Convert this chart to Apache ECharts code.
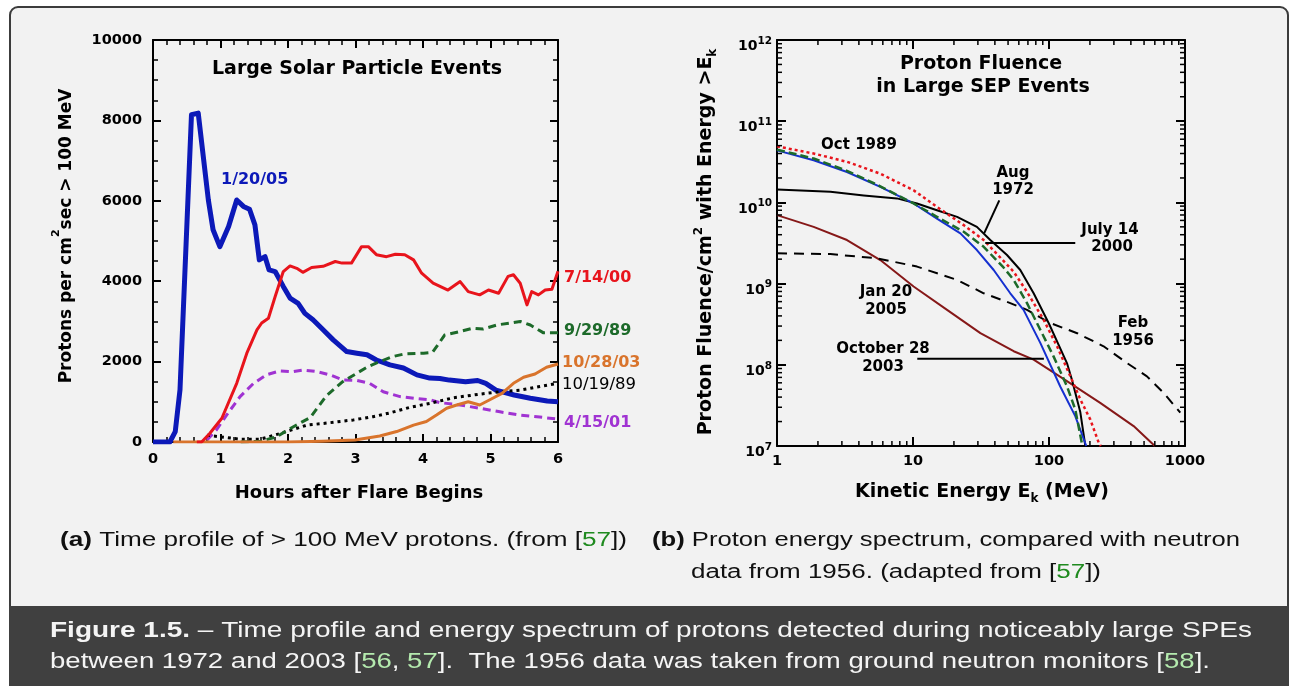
<!DOCTYPE html>
<html><head><meta charset="utf-8">
<script src="https://cdn.jsdelivr.net/npm/echarts@6/dist/echarts.min.js"></script>
<style>
html,body{margin:0;padding:0;background:#fff;overflow:hidden}
#frame{position:absolute;left:9px;top:6px;width:1280px;height:720px;box-sizing:border-box;border:2px solid #3c3c3c;border-radius:9px;background:#f2f2f2}
#band{position:absolute;left:9px;top:606px;width:1280px;height:80px;background:#404040}
#c{position:absolute;left:0;top:0;width:1289px;height:686px}
</style>
</head><body>
<div id="frame"></div><div id="band"></div>
<div id="c"></div>
<script>
// ---------------- Panel (a): >100 MeV proton flux vs hours after flare ----------------
const evt_1_20_05 = [[0,0],[0.25,0],[0.33,260],[0.40,1300],[0.57,8140],[0.67,8180],[0.82,6020],[0.89,5280],[0.99,4860],[1.12,5360],[1.24,6020],[1.34,5860],[1.43,5790],[1.51,5400],[1.575,4530],[1.66,4610],[1.72,4280],[1.81,4240],[1.93,3870],[2.03,3580],[2.15,3450],[2.25,3200],[2.37,3040],[2.52,2790],[2.67,2540],[2.87,2250],[3.02,2210],[3.17,2170],[3.31,2040],[3.51,1920],[3.71,1840],[3.91,1670],[4.10,1590],[4.25,1580],[4.39,1540],[4.63,1500],[4.81,1530],[4.93,1460],[5.08,1290],[5.35,1170],[5.59,1090],[5.84,1020],[6.0,1000]];
const evt_7_14_00 = [[0.65,0],[0.72,0],[0.84,210],[1.02,590],[1.24,1460],[1.39,2210],[1.54,2790],[1.61,2960],[1.71,3080],[1.81,3620],[1.93,4240],[2.03,4380],[2.13,4320],[2.22,4220],[2.35,4340],[2.52,4370],[2.70,4490],[2.80,4450],[2.94,4450],[3.09,4860],[3.19,4860],[3.31,4660],[3.46,4610],[3.59,4670],[3.73,4660],[3.86,4530],[3.98,4200],[4.15,3950],[4.37,3780],[4.55,3990],[4.67,3740],[4.84,3660],[4.97,3780],[5.12,3700],[5.26,4120],[5.34,4160],[5.44,3950],[5.54,3410],[5.61,3740],[5.71,3660],[5.81,3780],[5.91,3800],[6.0,4250]];
const evt_9_29_89 = [[1.3,0],[1.6,20],[1.83,130],[2.08,380],[2.33,610],[2.57,1150],[2.81,1500],[2.99,1680],[3.18,1870],[3.36,2000],[3.54,2120],[3.72,2190],[4.01,2210],[4.14,2230],[4.23,2440],[4.32,2660],[4.55,2750],[4.74,2830],[4.89,2810],[5.09,2910],[5.29,2960],[5.44,3000],[5.59,2910],[5.78,2720],[6.0,2720]];
const evt_10_28_03 = [[0.3,0],[2.0,0],[2.5,20],[2.99,50],[3.36,150],[3.61,260],[3.86,420],[4.05,510],[4.2,670],[4.35,840],[4.5,920],[4.67,1000],[4.84,920],[4.99,1050],[5.17,1210],[5.34,1460],[5.49,1610],[5.66,1690],[5.83,1860],[6.0,1940]];
const evt_10_19_89 = [[0.8,170],[0.99,130],[1.29,70],[1.59,70],[1.88,210],[2.28,420],[2.57,470],[2.97,550],[3.26,630],[3.5,720],[3.8,860],[4.1,960],[4.45,1100],[4.84,1190],[5.14,1250],[5.44,1290],[5.73,1380],[6.0,1460]];
const evt_4_15_01 = [[0.8,50],[0.94,300],[1.09,670],[1.29,1130],[1.49,1460],[1.68,1670],[1.88,1770],[2.08,1750],[2.23,1790],[2.43,1750],[2.62,1670],[2.82,1540],[3.02,1530],[3.21,1460],[3.41,1250],[3.66,1130],[3.91,1080],[4.10,1050],[4.25,980],[4.55,920],[4.84,840],[5.14,750],[5.44,670],[5.73,620],[6.0,570]];

// ---------------- Panel (b): fluence above E (MeV) ----------------
const flu_oct1989 = [[1,4.9e10],[1.86,4.0e10],[3.27,3.16e10],[5.75,2.26e10],[10.1,1.41e10],[15.0,8.8e9],[23.6,5.25e9],[33.1,3.44e9],[46.3,1.9e9],[55,1.4e9],[68.9,7.9e8],[91.2,3.6e8],[114.6,1.69e8],[143.6,7.2e7],[170,3.74e7],[201,2.13e7],[232,1.1e7],[240,1.0e7]];
const flu_jul2000 = [[1,4.37e10],[1.86,3.3e10],[3.27,2.37e10],[5.75,1.55e10],[10.1,9.7e9],[15.0,6.3e9],[22.3,4.15e9],[29.5,2.59e9],[39.2,1.47e9],[51.9,7.6e8],[65.0,4.75e8],[86.3,1.86e8],[121,5.4e7],[156,2.33e7],[188,1.0e7]];
const flu_sep1989 = [[1,4.47e10],[1.86,3.47e10],[3.27,2.45e10],[5.75,1.58e10],[10.1,9.7e9],[15.0,6.64e9],[23.6,4.35e9],[33.1,2.84e9],[46.3,1.58e9],[55,1.11e9],[68.9,5.75e8],[86.3,2.7e8],[108,1.27e8],[135.5,5.45e7],[156,2.82e7],[176,1.0e7]];
const flu_aug1972 = [[1,1.44e10],[2.47,1.35e10],[4.34,1.22e10],[7.62,1.12e10],[10.7,9.7e9],[15.0,8.0e9],[21.1,6.64e9],[29.5,5.0e9],[37,3.44e9],[49.1,2.25e9],[61.5,1.47e9],[77.1,7.6e8],[100,3.2e8],[135.5,1.05e8],[147.6,6.5e7],[170,2.6e7],[185,1.0e7]];
const flu_feb1956 = [[1,2.36e9],[2.47,2.31e9],[5.43,2.05e9],[10.7,1.62e9],[21.1,1.11e9],[33.1,7.6e8],[51.9,5.75e8],[68.9,4.75e8],[102,3.27e8],[161,2.45e8],[252,1.69e8],[375,1.05e8],[525,7.2e7],[697,4.5e7],[923,2.57e7]];
const flu_jan2005 = [[1,6.97e9],[1.86,5.0e9],[3.27,3.44e9],[5.75,1.95e9],[10.1,9.2e8],[17.8,4.75e8],[31.3,2.46e8],[55,1.47e8],[77.1,1.16e8],[135.5,6.3e7],[238,3.4e7],[419,1.76e7],[600,1.0e7]];

const FF = 'DejaVu Sans';
const BLACK = '#000';
const plain = v => String(Math.round(v));

const chart = echarts.init(document.getElementById('c'), null, {renderer:'canvas', width:1289, height:686});

function linAxis(grid, pos, showLabel, extra) {
  return Object.assign({
    gridIndex: grid, type: 'value', position: pos,
    axisLine: {show:true, onZero:false, lineStyle:{color:BLACK, width:2}},
    axisTick: {show:true, inside:true, length:8, lineStyle:{color:BLACK, width:2}},
    minorTick: {show:true, length:5, lineStyle:{color:BLACK, width:1.5}},
    splitLine: {show:false}, minorSplitLine:{show:false},
    axisLabel: {show:showLabel, color:BLACK, fontFamily:FF, fontWeight:'bold', fontSize:14, formatter: plain}
  }, extra);
}
function logAxis(grid, pos, showLabel, extra) {
  return Object.assign({
    gridIndex: grid, type: 'log', logBase: 10, position: pos,
    axisLine: {show:true, onZero:false, lineStyle:{color:BLACK, width:2}},
    axisTick: {show:true, inside:true, length:9, lineStyle:{color:BLACK, width:2}},
    minorTick: {show:false},
    splitLine: {show:false},
    axisLabel: {show:showLabel, color:BLACK, fontFamily:FF, fontWeight:'bold', fontSize:14, formatter: plain}
  }, extra);
}

const xMinorVals = [], yMinorVals = [];
for (let d = 0; d < 3; d++) for (let m = 2; m <= 9; m++) xMinorVals.push([m * Math.pow(10, d), 1e7]);
for (let d = 7; d < 12; d++) for (let m = 2; m <= 9; m++) yMinorVals.push([1, m * Math.pow(10, d)]);

function lineSeries(name, data, xi, yi, color, width, dash, z) {
  return {name, type:'line', xAxisIndex:xi, yAxisIndex:yi, data, showSymbol:false, symbol:'none',
    smooth:false, z:z, animation:false,
    lineStyle:{color, width, type: dash || 'solid', cap:'butt', join:'round'}};
}

const labA = {show:true, color:BLACK, fontFamily:FF, fontWeight:'bold', fontSize:14.5, formatter: plain};
const option = {
  animation: false,
  grid: [
    {left:153, top:40, width:405, height:402},
    {left:777, top:40, width:408, height:406}
  ],
  xAxis: [
    linAxis(0, 'bottom', true, {min:0, max:6, interval:1, minorTick:{show:true, splitNumber:5, length:5, lineStyle:{color:BLACK, width:1.5}}, axisLabel:Object.assign({margin:10}, labA)}),
    linAxis(0, 'top', false, {min:0, max:6, interval:1, minorTick:{show:true, splitNumber:5, length:5, lineStyle:{color:BLACK, width:1.5}}}),
    logAxis(1, 'bottom', true, {min:1, max:1000, axisLabel:Object.assign({margin:8}, labA)}),
    logAxis(1, 'top', false, {min:1, max:1000})
  ],
  yAxis: [
    linAxis(0, 'left', true, {min:0, max:10000, interval:2000, minorTick:{show:true, splitNumber:4, length:5, lineStyle:{color:BLACK, width:1.5}}, axisLabel:Object.assign({margin:11}, labA)}),
    linAxis(0, 'right', false, {min:0, max:10000, interval:2000, minorTick:{show:true, splitNumber:4, length:5, lineStyle:{color:BLACK, width:1.5}}}),
    logAxis(1, 'left', true, {min:1e7, max:1e12, axisLabel:{show:true, margin:5, padding:[9,0,0,0],
      formatter: v => '{b|10}{s|' + Math.round(Math.log10(v)) + '}',
      rich:{
        b:{fontFamily:FF, fontWeight:'bold', fontSize:14, lineHeight:18, verticalAlign:'bottom', color:BLACK},
        s:{fontFamily:FF, fontWeight:'bold', fontSize:10.5, lineHeight:10, verticalAlign:'top', color:BLACK}
      }}}),
    logAxis(1, 'right', false, {min:1e7, max:1e12})
  ],
  series: [
    lineSeries('1/20/05', evt_1_20_05, 0, 0, '#0c19b8', 5, 'solid', 2),
    lineSeries('4/15/01', evt_4_15_01, 0, 0, '#a033d2', 3, [8,5], 3),
    lineSeries('10/19/89', evt_10_19_89, 0, 0, '#000000', 3, [3,4], 3),
    lineSeries('9/29/89', evt_9_29_89, 0, 0, '#1d6a2a', 3, [8,5], 3),
    lineSeries('10/28/03', evt_10_28_03, 0, 0, '#d9742c', 3, 'solid', 4),
    lineSeries('7/14/00', evt_7_14_00, 0, 0, '#e8141c', 3, 'solid', 4),

    lineSeries('Jan 2005', flu_jan2005, 2, 2, '#861818', 2, 'solid', 2),
    lineSeries('Feb 1956', flu_feb1956, 2, 2, '#000000', 2, [10,7], 2),
    lineSeries('Aug 1972', flu_aug1972, 2, 2, '#000000', 2, 'solid', 3),
    lineSeries('Jul 2000', flu_jul2000, 2, 2, '#1530d0', 2, 'solid', 3),
    lineSeries('Sep 1989', flu_sep1989, 2, 2, '#1d6a2a', 2.5, [8,4], 4),
    lineSeries('Oct 1989', flu_oct1989, 2, 2, '#e8141c', 2.5, [3,3], 5),

    {type:'custom', xAxisIndex:2, yAxisIndex:2, data:xMinorVals, silent:true, clip:false, z:6,
      encode:{x:0, y:1},
      renderItem:(p, api) => {
        const v = api.value(0);
        const b = api.coord([v, 1e7]), t = api.coord([v, 1e12]);
        return {type:'group', children:[
          {type:'line', shape:{x1:b[0], y1:b[1], x2:b[0], y2:b[1]-5}, style:{stroke:BLACK, lineWidth:1.5}},
          {type:'line', shape:{x1:t[0], y1:t[1], x2:t[0], y2:t[1]+5}, style:{stroke:BLACK, lineWidth:1.5}}
        ]};
      }},
    {type:'custom', xAxisIndex:2, yAxisIndex:2, data:yMinorVals, silent:true, clip:false, z:6,
      encode:{x:0, y:1},
      renderItem:(p, api) => {
        const v = api.value(1);
        const l = api.coord([1, v]), r = api.coord([1000, v]);
        return {type:'group', children:[
          {type:'line', shape:{x1:l[0], y1:l[1], x2:l[0]+5, y2:l[1]}, style:{stroke:BLACK, lineWidth:1.5}},
          {type:'line', shape:{x1:r[0], y1:r[1], x2:r[0]-5, y2:r[1]}, style:{stroke:BLACK, lineWidth:1.5}}
        ]};
      }}
  ]
};
chart.setOption(option);

// ---------------- Texts / annotations ----------------
function T(x, y, text, size, color, weight, align, extra) {
  return Object.assign({type:'text', x, y, silent:true, z:10,
    style:{text, fill:color || BLACK, fontFamily:FF, fontSize:size, fontWeight:weight || 'bold',
      align:align || 'center', verticalAlign:'middle'}}, extra || {});
}
const g = [];
// panel (a)
g.push(T(357, 69, 'Large Solar Particle Events', 19));
g.push(T(359, 493, 'Hours after Flare Begins', 18));
g.push({type:'text', x:63, y:236, rotation:Math.PI/2, silent:true, z:10,
  style:{text:'{a|Protons per cm}{s|2}{a|sec > 100 MeV}', align:'center', verticalAlign:'middle',
    rich:{a:{fontFamily:FF, fontWeight:'bold', fontSize:17, lineHeight:24, verticalAlign:'bottom', fill:BLACK},
          s:{fontFamily:FF, fontWeight:'bold', fontSize:11, lineHeight:11, verticalAlign:'top', fill:BLACK}}}});
g.push(T(221, 180, '1/20/05', 16, '#0c19b8', 'bold', 'left'));
g.push(T(564, 278, '7/14/00', 16, '#e8141c', 'bold', 'left'));
g.push(T(564, 331, '9/29/89', 16, '#1d6a2a', 'bold', 'left'));
g.push(T(562, 363, '10/28/03', 16, '#d9742c', 'bold', 'left'));
g.push(T(562, 385, '10/19/89', 16.5, '#000', 'normal', 'left'));
g.push(T(564, 423, '4/15/01', 16, '#a033d2', 'bold', 'left'));
// panel (b)
g.push(T(981, 64, 'Proton Fluence', 19));
g.push(T(983, 87, 'in Large SEP Events', 19));
g.push({type:'text', x:982, y:494, silent:true, z:10,
  style:{text:'{a|Kinetic Energy E}{s|k}{a| (MeV)}', align:'center', verticalAlign:'middle',
    rich:{a:{fontFamily:FF, fontWeight:'bold', fontSize:19, lineHeight:22, verticalAlign:'top', fill:BLACK},
          s:{fontFamily:FF, fontWeight:'bold', fontSize:12, lineHeight:12, verticalAlign:'bottom', fill:BLACK}}}});
g.push({type:'text', x:706, y:242, rotation:Math.PI/2, silent:true, z:10,
  style:{text:'{a|Proton Fluence/cm}{s|2}{a| with Energy >E}{k|k}', align:'center', verticalAlign:'middle',
    rich:{a:{fontFamily:FF, fontWeight:'bold', fontSize:19, lineHeight:26, verticalAlign:'middle', fill:BLACK},
          s:{fontFamily:FF, fontWeight:'bold', fontSize:12, lineHeight:12, verticalAlign:'top', fill:BLACK},
          k:{fontFamily:FF, fontWeight:'bold', fontSize:12, lineHeight:12, verticalAlign:'bottom', fill:BLACK}}}});
const lbl = (x, y, t) => T(x, y, t, 15);
g.push(lbl(859, 145, 'Oct 1989'));
g.push(lbl(1013, 173, 'Aug')); g.push(lbl(1013, 190, '1972'));
g.push(lbl(1110, 230, 'July 14')); g.push(lbl(1112, 247, '2000'));
g.push(lbl(886, 292, 'Jan 20')); g.push(lbl(886, 310, '2005'));
g.push(lbl(1133, 323, 'Feb')); g.push(lbl(1133, 341, '1956'));
g.push(lbl(883, 349, 'October 28')); g.push(lbl(883, 367, '2003'));

// leader lines defined in data space of panel (b)
const leaders = [
  [[43.1, 1.06e10], [33.4, 4.19e9]],
  [[34, 3.16e9], [156, 3.16e9]],
  [[10.75, 1.19e8], [91.7, 1.19e8]]
];
leaders.forEach(([a, b]) => {
  const pa = chart.convertToPixel({xAxisIndex:2, yAxisIndex:2}, a);
  const pb = chart.convertToPixel({xAxisIndex:2, yAxisIndex:2}, b);
  g.push({type:'line', silent:true, z:9, shape:{x1:pa[0], y1:pa[1], x2:pb[0], y2:pb[1]}, style:{stroke:BLACK, lineWidth:2}});
});

// captions (fitted to the original line widths)
const ctx = document.createElement('canvas').getContext('2d');
function caption(x, y, segs, targetW, size, family, rich) {
  let w = 0;
  segs.forEach(s => { const st = rich[s[0]]; ctx.font = (st.fontWeight === 'bold' ? 'bold ' : '') + size + 'px "' + family + '"'; w += ctx.measureText(s[1]).width; });
  const text = segs.map(s => '{' + s[0] + '|' + s[1] + '}').join('');
  return {type:'text', x, y, scaleX: targetW / w, scaleY: 1, silent:true, z:10,
    style:{text, align:'left', verticalAlign:'middle', rich}};
}
const CF = 'Liberation Sans', CS = 20;
const capRich = {
  n:{fontFamily:CF, fontSize:CS, fill:'#111', fontWeight:'normal'},
  b:{fontFamily:CF, fontSize:CS, fill:'#111', fontWeight:'bold'},
  g:{fontFamily:CF, fontSize:CS, fill:'#1f8a1f', fontWeight:'normal'}
};
g.push(caption(60, 540, [['b','(a)'],['n',' Time profile of > 100 MeV protons. (from ['],['g','57'],['n','])']], 567, CS, CF, capRich));
g.push(caption(652, 540, [['b','(b)'],['n',' Proton energy spectrum, compared with neutron']], 588, CS, CF, capRich));
g.push(caption(691, 572, [['n','data from 1956. (adapted from ['],['g','57'],['n','])']], 410, CS, CF, capRich));
const BS = 22;
const bandRich = {
  n:{fontFamily:CF, fontSize:BS, fill:'#f4f4f4', fontWeight:'normal'},
  b:{fontFamily:CF, fontSize:BS, fill:'#f4f4f4', fontWeight:'bold'},
  g:{fontFamily:CF, fontSize:BS, fill:'#b4eaae', fontWeight:'normal'}
};
g.push(caption(50, 631, [['b','Figure 1.5.'],['n',' \u2013 Time profile and energy spectrum of protons detected during noticeably large SPEs']], 1202, BS, CF, bandRich));
g.push(caption(50, 662, [['n','between 1972 and 2003 ['],['g','56'],['n',', '],['g','57'],['n','].  The 1956 data was taken from ground neutron monitors ['],['g','58'],['n','].']], 1160, BS, CF, bandRich));

chart.setOption({graphic: g});
</script>
</body></html>
